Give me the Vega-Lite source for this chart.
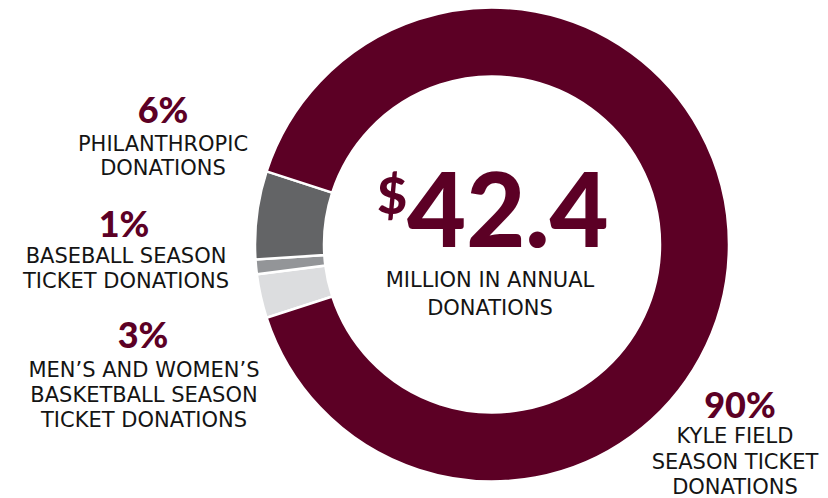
{
  "$schema": "https://vega.github.io/schema/vega-lite/v6.json",
  "autosize": "none",
  "width": 672,
  "height": 489,
  "padding": {"left": 156, "top": 0, "right": 0, "bottom": 9},
  "background": "white",
  "config": {"view": {"stroke": null}},
  "data": {
    "values": [
      {"category": "Men's and Women's Basketball", "value": 3, "rank": 1, "pct": "3%", "desc": ["MEN’S AND WOMEN’S", "BASKETBALL SEASON", "TICKET DONATIONS"]},
      {"category": "Baseball", "value": 1, "rank": 2, "pct": "1%", "desc": ["BASEBALL SEASON", "TICKET DONATIONS"]},
      {"category": "Philanthropic", "value": 6, "rank": 3, "pct": "6%", "desc": ["PHILANTHROPIC", "DONATIONS"]},
      {"category": "Kyle Field", "value": 90, "rank": 4, "pct": "90%", "desc": ["KYLE FIELD", "SEASON TICKET", "DONATIONS"]}
    ]
  },
  "layer": [
    {
      "mark": {"type": "arc", "outerRadius": 237, "innerRadius": 168, "stroke": "white", "strokeWidth": 2.5},
      "encoding": {
        "theta": {"field": "value", "type": "quantitative", "stack": true, "scale": {"range": [4.398, 10.681]}},
        "order": {"field": "rank", "type": "quantitative"},
        "color": {
          "field": "category", "type": "nominal", "legend": null,
          "scale": {
            "domain": ["Men's and Women's Basketball", "Baseball", "Philanthropic", "Kyle Field"],
            "range": ["#dcdddf", "#939598", "#636466", "#5c0025"]
          }
        }
      }
    },
    {
      "transform": [{"filter": "datum.category === 'Philanthropic'"}],
      "layer": [
        {"mark": {"type": "text", "x": 7, "y": 123, "align": "center", "baseline": "alphabetic", "font": "Lato", "fontWeight": 900, "fontSize": 36, "color": "#5c0025"}, "encoding": {"text": {"field": "pct"}}},
        {"mark": {"type": "text", "x": 7, "y": 151, "align": "center", "baseline": "alphabetic", "font": "DejaVu Sans", "fontWeight": "normal", "fontSize": 21, "lineHeight": 23.5, "color": "#141414"}, "encoding": {"text": {"field": "desc"}}}
      ]
    },
    {
      "transform": [{"filter": "datum.category === 'Baseball'"}],
      "layer": [
        {"mark": {"type": "text", "x": -32, "y": 237, "align": "center", "baseline": "alphabetic", "font": "Lato", "fontWeight": 900, "fontSize": 36, "color": "#5c0025"}, "encoding": {"text": {"field": "pct"}}},
        {"mark": {"type": "text", "x": -30, "y": 263, "align": "center", "baseline": "alphabetic", "font": "DejaVu Sans", "fontWeight": "normal", "fontSize": 21, "lineHeight": 25, "color": "#141414"}, "encoding": {"text": {"field": "desc"}}}
      ]
    },
    {
      "transform": [{"filter": "datum.category === \"Men's and Women's Basketball\""}],
      "layer": [
        {"mark": {"type": "text", "x": -13, "y": 348, "align": "center", "baseline": "alphabetic", "font": "Lato", "fontWeight": 900, "fontSize": 36, "color": "#5c0025"}, "encoding": {"text": {"field": "pct"}}},
        {"mark": {"type": "text", "x": -12, "y": 377, "align": "center", "baseline": "alphabetic", "font": "DejaVu Sans", "fontWeight": "normal", "fontSize": 21, "lineHeight": 25, "color": "#141414"}, "encoding": {"text": {"field": "desc"}}}
      ]
    },
    {
      "transform": [{"filter": "datum.category === 'Kyle Field'"}],
      "layer": [
        {"mark": {"type": "text", "x": 584, "y": 418, "align": "center", "baseline": "alphabetic", "font": "Lato", "fontWeight": 900, "fontSize": 36, "color": "#5c0025"}, "encoding": {"text": {"field": "pct"}}},
        {"mark": {"type": "text", "x": 579, "y": 443, "align": "center", "baseline": "alphabetic", "font": "DejaVu Sans", "fontWeight": "normal", "fontSize": 21, "lineHeight": 25.5, "color": "#141414"}, "encoding": {"text": {"field": "desc"}}}
      ]
    },
    {
      "data": {"values": [{"sup": "$", "total": "42.4", "sub": ["MILLION IN ANNUAL", "DONATIONS"]}]},
      "layer": [
        {"mark": {"type": "text", "x": 221, "y": 214, "align": "left", "baseline": "alphabetic", "font": "Lato", "fontWeight": 900, "fontSize": 52, "color": "#5c0025"}, "encoding": {"text": {"field": "sup"}}},
        {"mark": {"type": "text", "x": 251, "y": 247, "align": "left", "baseline": "alphabetic", "font": "Lato", "fontWeight": 900, "fontSize": 102, "color": "#5c0025"}, "encoding": {"text": {"field": "total"}}},
        {"mark": {"type": "text", "x": 334, "y": 287, "align": "center", "baseline": "alphabetic", "font": "DejaVu Sans", "fontWeight": "normal", "fontSize": 21, "lineHeight": 28, "color": "#141414"}, "encoding": {"text": {"field": "sub"}}}
      ]
    }
  ]
}
